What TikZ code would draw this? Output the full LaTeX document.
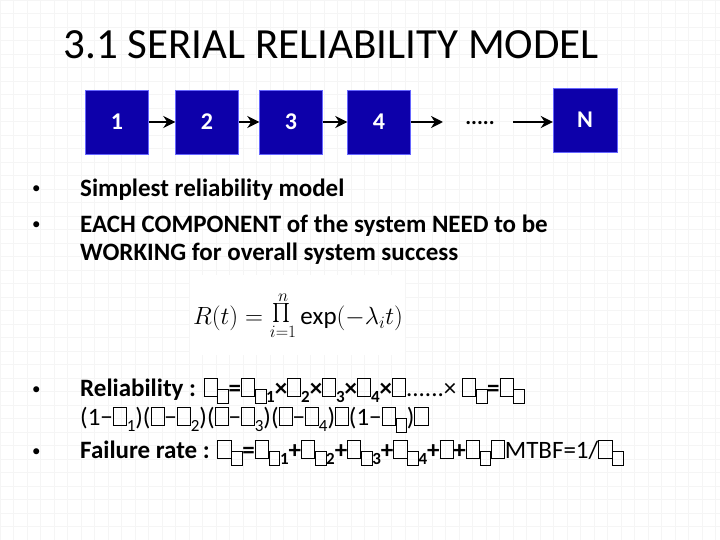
\documentclass[tikz,border=0pt]{standalone}
\usepackage{fontspec}
\usetikzlibrary{arrows.meta}
\setmainfont{Carlito}
\newcommand\tf{{\fboxsep0pt\fboxrule0.7pt\fbox{\rule{0pt}{0.7em}\hspace{0.5em}}}}
\newcommand\subn[1]{\raisebox{-6pt}{\fontsize{17}{17}\selectfont #1}}
\newcommand\stf{\raisebox{-7pt}{{\fboxsep0pt\fboxrule0.6pt\fbox{\rule{0pt}{0.55em}\hspace{0.4em}}}}}
\begin{document}
\begin{tikzpicture}[x=1pt,y=-1pt,
  blk/.style={fill=blue!70!black!95!red, draw=blue!60, minimum width=63pt, minimum height=64pt, inner sep=0, text=white, font=\fontsize{24}{24}\selectfont\bfseries},
  arr/.style={-{Stealth[length=12pt,width=12pt]}, line width=2.6pt},
  txt/.style={anchor=west, font=\fontsize{25}{27}\selectfont\bfseries, inner sep=0},
  txtn/.style={anchor=west, font=\fontsize{25}{27}\selectfont, inner sep=0},
  bul/.style={anchor=west, font=\fontsize{17}{17}\selectfont, inner sep=0}]
\useasboundingbox (0,0) rectangle (720,540);
\fill[white] (0,0) rectangle (720,540);
\draw[black!4, step=13.5pt] (0,0) grid (720,540);
\node[anchor=west, font=\fontsize{43}{43}\selectfont] (title) at (60,45) {3.1 SERIAL RELIABILITY MODEL};
\node[blk] (b1) at (117,122) {1};
\node[blk] (b2) at (207,122) {2};
\node[blk] (b3) at (291,122) {3};
\node[blk] (b4) at (379,122) {4};
\node[font=\fontsize{22}{22}\selectfont\bfseries, inner sep=1pt] (dots) at (480,123) {.....};
\coordinate (d0) at (443,122);
\node[blk, minimum width=64pt] (bn) at (585,120) {N};
\draw[arr] (b1) -- (b2);
\draw[arr] (b2) -- (b3);
\draw[arr] (b3) -- (b4);
\draw[arr] (b4.east) -- (d0);
\coordinate (d1) at (513,122);
\draw[arr] (d1) -- (bn.west|-d1);
\node[bul] (bu1) at (32,190) {•};
\node[txt] (l1) at (80,190) {Simplest reliability model};
\node[bul] (bu2) at (32,226) {•};
\node[txt] (l2) at (80,226) {EACH COMPONENT of the system NEED to be};
\node[txt] (l3) at (80,254) {WORKING for overall system success};
\fill[white] (190,275) rectangle (405,355);
\node[font=\fontsize{25}{25}\selectfont] (eq) at (298,316) {$\displaystyle R(t)=\mathop{\scalebox{1.9}{$\prod$}}\limits_{i=1}^{n}\mathrm{exp}(-\lambda_i t)$};
\node[bul] (bu3) at (32,391) {•};
\node[txt] (l4) at (80,391) {Reliability : \tf\stf=\tf\stf\subn{1}×\tf\subn{2}×\tf\subn{3}×\tf\subn{4}×\tf\textmd{......×} \tf\stf=\tf\stf};
\node[txtn] (l5) at (80,420) {(1−\tf\subn{1})(\tf−\tf\subn{2})(\tf−\tf\subn{3})(\tf−\tf\subn{4})\tf(1−\tf\stf)\tf};
\node[bul] (bu4) at (32,453) {•};
\node[txt] (l6) at (80,453) {Failure rate : \tf\stf=\tf\stf\subn{1}+\tf\stf\subn{2}+\tf\stf\subn{3}+\tf\stf\subn{4}+\tf+\tf\stf\tf\textmd{MTBF=1/\tf\stf}};
\end{tikzpicture}
\end{document}
